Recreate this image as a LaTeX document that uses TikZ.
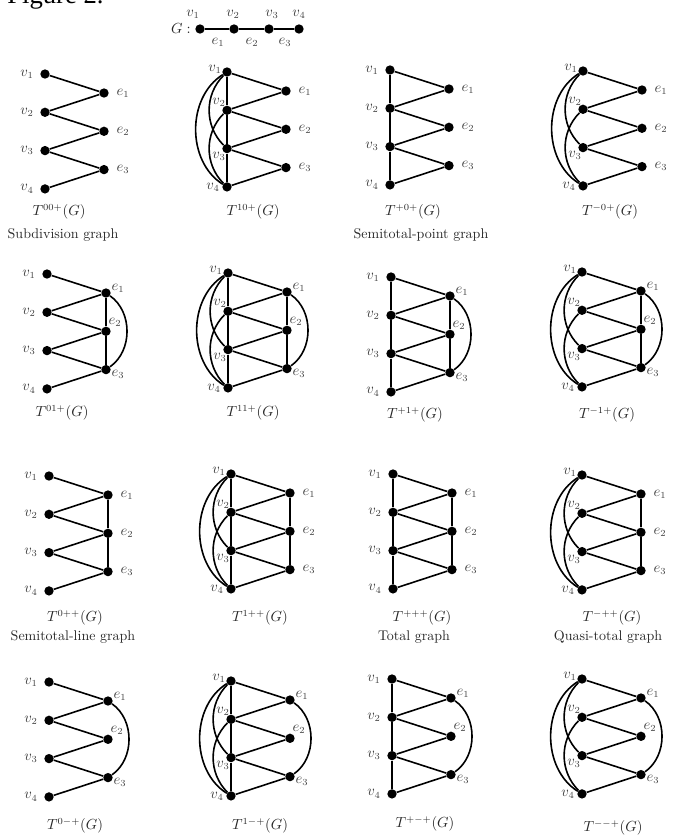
\documentclass[tikz,border=0pt]{standalone}
\usepackage{amsmath}
\usepackage{fontspec}
\newfontfamily\figfont{Liberation Serif}
\usepackage{tikz}

\begin{document}
\begin{tikzpicture}[x=0.75pt, y=-0.75pt,
    every node/.style={font=\fontsize{10.5}{12}\selectfont},
    vtx/.style={circle, fill=black, inner sep=0pt, minimum size=7pt},
    edge/.style={line width=1.2pt},
    lbl/.style={text=black!75, inner sep=0pt},
    captxt/.style={text=black!85, inner sep=0pt}
]
\useasboundingbox (0,0) rectangle (673,836);

% Heading
\node[font=\figfont\fontsize{20}{24}\selectfont, anchor=base west, inner sep=0pt] (fig) at (7,3) {Figure 2.};

% The path G
\node[captxt] (G) at (181,29) {$G:$};
\node[vtx] (G-v1) at (200,29) {};
\node[vtx] (G-v2) at (234,29) {};
\node[vtx] (G-v3) at (269,29) {};
\node[vtx] (G-v4) at (299,29) {};
\draw[edge] (G-v1) -- (G-v2) -- (G-v3) -- (G-v4);
\node[lbl] (G-lv1) at (193,14) {$v_1$};
\node[lbl] (G-lv2) at (233,14) {$v_2$};
\node[lbl] (G-lv3) at (272,14) {$v_3$};
\node[lbl] (G-lv4) at (299,14) {$v_4$};
\node[lbl] (G-le1) at (218,42) {$e_1$};
\node[lbl] (G-le2) at (252,42) {$e_2$};
\node[lbl] (G-le3) at (285,42) {$e_3$};

% The sixteen graphs T^{xyz}(G)
% name / position / vertex path, vertex arcs / edge path, edge arc / superscript / caption
\foreach \p/\x/\y/\vp/\va/\ep/\ea/\tp/\cx/\cy in {
    a/45/74/0/0/0/0/{00+}/59/212,
    b/227/72/1/1/0/0/{10+}/253/212,
    c/390/70/1/0/0/0/{+0+}/413/212,
    d/583/71/0/1/0/0/{-0+}/610/212,
    e/47/274/0/0/1/1/{01+}/62/413,
    f/228/273/1/1/1/1/{11+}/253/413,
    g/391/277/1/0/1/1/{+1+}/415/415,
    h/582/272/0/1/1/1/{-1+}/607/415,
    i/49/476/0/0/1/0/{0++}/75/618,
    j/231/474/1/1/1/0/{1++}/260/618,
    k/393/474/1/0/1/0/{+++}/422/618,
    l/582/475/0/1/1/0/{-++}/612/618,
    m/49/682/0/0/0/1/{0-+}/75/826,
    n/231/681/1/1/0/1/{1-+}/260/826,
    o/392/679/1/0/0/1/{+-+}/425/824,
    q/582/679/0/1/0/1/{--+}/613/828}{
  \begin{scope}[shift={(\x,\y)}]
    \foreach \i in {1,...,4} \node[vtx] (\p-v\i) at (0,{(\i-1)*38.3}) {};
    \foreach \i in {1,...,3} \node[vtx] (\p-e\i) at (59,{(\i-1)*38.3+19}) {};
    % incidences
    \foreach \i/\j in {1/1,2/1,2/2,3/2,3/3,4/3} \draw[edge] (\p-v\i) -- (\p-e\j);
    \ifnum\vp=1 \draw[edge] (\p-v1) -- (\p-v2) -- (\p-v3) -- (\p-v4); \fi
    \ifnum\va=1
      \draw[edge] (\p-v1) to[bend right=45] (\p-v3);
      \draw[edge] (\p-v2) to[bend right=45] (\p-v4);
      \draw[edge] (\p-v1) to[bend right=58] (\p-v4);
      \node[lbl] (\p-lv1) at (-12,-3) {$v_1$};
      \node[lbl] (\p-lv2) at (-8,30.3) {$v_2$};
      \node[lbl] (\p-lv3) at (-8,84.6) {$v_3$};
      \node[lbl] (\p-lv4) at (-14,115) {$v_4$};
    \else
      \foreach \i in {1,...,4} \node[lbl] (\p-lv\i) at (-18,{(\i-1)*38.3}) {$v_\i$};
    \fi
    \ifnum\ep=1 \draw[edge] (\p-e1) -- (\p-e2) -- (\p-e3); \fi
    \ifnum\ea=1
      \draw[edge] (\p-e1) to[bend left=55] (\p-e3);
      \node[lbl] (\p-le1) at (71,14) {$e_1$};
      \node[lbl] (\p-le2) at (68,48.3) {$e_2$};
      \node[lbl] (\p-le3) at (71,100.6) {$e_3$};
    \else
      \foreach \i in {1,...,3} \node[lbl] (\p-le\i) at (78,{(\i-1)*38.3+19}) {$e_\i$};
    \fi
  \end{scope}
  \node[captxt] (\p-cap) at (\cx,\cy) {$T^{\tp}(G)$};
}

% Names under some of the graphs
\node[captxt] (subdiv) at (63,235) {Subdivision graph};
\node[captxt] (semipt) at (421,235) {Semitotal-point graph};
\node[captxt] (semiln) at (73,637) {Semitotal-line graph};
\node[captxt] (total) at (414,637) {Total graph};
\node[captxt] (quasi) at (608,637) {Quasi-total graph};

\end{tikzpicture}
\end{document}
